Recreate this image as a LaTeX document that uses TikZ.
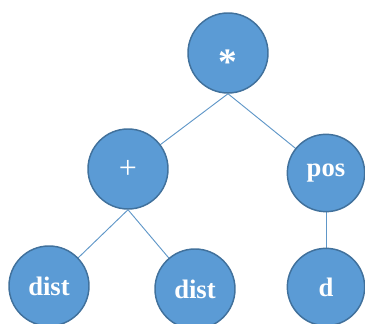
\documentclass[tikz,border=0pt]{standalone}
\usepackage{fontspec}
\setmainfont{Liberation Serif}
\usetikzlibrary{backgrounds}
\definecolor{opnode}{HTML}{5B9BD5}
\definecolor{opborder}{HTML}{41719C}

\tikzset{
    opcircle/.style={circle, fill=opnode, draw=opborder, line width=1.1pt,
        minimum size=60pt, inner sep=0pt, text=white, font=\fontsize{20}{20}\selectfont\bfseries},
    oplink/.style={draw=opnode!85!gray, line width=0.7pt}
}

\begin{document}
\begin{tikzpicture}[x=0.75pt,y=-0.75pt]
    \useasboundingbox (0,0) rectangle (365,324);
    \node [opcircle, font=\fontsize{28}{28}\selectfont\bfseries, text height=0.7em, text depth=0.2em] (mul) at (228,53) {\raisebox{-0.5em}{*}};
    \node [opcircle, font=\fontsize{24}{24}\selectfont] (plus) at (128,169) {+};
    \node [opcircle, minimum size=58pt] (pos) at (326,173) {pos};
    \node [opcircle] (dist_a) at (49,286) {dist};
    \node [opcircle] (dist_b) at (195,289) {dist};
    \node [opcircle, minimum size=58pt] (d) at (326,287) {d};
    % edges leave from the bottom of the parent
    \begin{scope}[on background layer]
        \draw [oplink] (mul.south) -- (plus.center);
        \draw [oplink] (mul.south) -- (pos.center);
        \draw [oplink] (plus.south) -- (dist_a.center);
        \draw [oplink] (plus.south) -- (dist_b.center);
        \draw [oplink] (pos.south) -- (d.center);
    \end{scope}
\end{tikzpicture}
\end{document}
